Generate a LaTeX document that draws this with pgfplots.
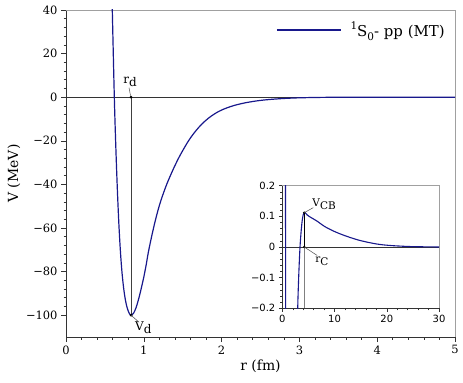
\documentclass[border=0pt]{standalone}
\usepackage{fontspec}
\setmainfont{DejaVu Serif}
\newfontfamily\insetfont{DejaVu Sans}
\usepackage{pgfplots}
\pgfplotsset{compat=1.18}

\definecolor{curve}{RGB}{24,24,140}
\definecolor{frame}{RGB}{160,160,160}
\newcommand\sub[1]{\raisebox{-0.3em}{#1}}

\begin{document}
\begin{tikzpicture}[x=1bp,y=1bp]
\useasboundingbox (0,0) rectangle (463,382);

% main plot
\begin{axis}[
  at={(66bp,45bp)}, anchor=south west,
  scale only axis, width=389bp, height=327bp,
  xmin=0, xmax=5, ymin=-110, ymax=40,
  axis x line*=bottom, axis y line*=left,
  axis line style={black!80, line width=0.8bp},
  clip mode=individual,
  xtick={0,1,2,3,4,5}, xticklabels={0,1,2,3,4,5},
  ytick={-100,-80,-60,-40,-20,0,20,40},
  yticklabels={−100,−80,−60,−40,−20,0,20,40},
  minor x tick num=4, minor y tick num=4,
  tick align=outside, major tick length=5bp, minor tick length=2.5bp,
  tick style={black!80, line width=0.6bp},
  ticklabel style={font=\fontsize{11.5}{12}\selectfont},
  xlabel={r (fm)}, ylabel={V (MeV)},
  label style={font=\fontsize{14}{16}\selectfont},
  xlabel style={at={(axis description cs:0.5,-0.0887)}, anchor=center},
  ylabel style={at={(axis description cs:-0.1337,0.5)}, anchor=center},
  legend style={draw=none, fill=none, inner sep=0pt,
    at={(rel axis cs:0.974,0.939)}, anchor=east,
    nodes={inner sep=0pt}, column sep=9bp,
    font=\fontsize{15}{17}\selectfont},
  legend image code/.code={\draw[#1] (0bp,0bp) -- (64bp,0bp);},
]
\draw[black!80, line width=0.9bp] (axis cs:0,0) -- (axis cs:5,0);
\draw[frame, line width=0.8bp] (rel axis cs:0,1) -- (rel axis cs:1,1) -- (rel axis cs:1,0);

\addplot[curve, line width=1.2bp, smooth] coordinates {
  (0.585,56) (0.595,40) (0.621,0) (0.64,-22.5) (0.66,-42.3) (0.68,-58.5)
  (0.70,-71.1) (0.72,-80.5) (0.74,-87.3) (0.76,-92.3) (0.78,-95.8)
  (0.80,-98.1) (0.82,-99.55) (0.836,-100) (0.85,-99.8) (0.87,-99.0)
  (0.90,-96.6) (0.93,-93.0) (0.952,-90) (0.98,-85.7) (1.0,-82.5)
  (1.03,-77.0) (1.059,-71) (1.10,-64.0) (1.145,-57.0) (1.19,-50.9)
  (1.231,-46.2) (1.28,-41.3) (1.316,-38.1) (1.38,-32.9) (1.445,-28.1)
  (1.5,-24.5) (1.573,-20.1) (1.65,-16.25) (1.745,-12.35) (1.85,-9.1)
  (1.959,-6.6) (2.06,-5.0) (2.17,-3.7) (2.3,-2.6) (2.45,-1.7) (2.6,-1.1)
  (2.8,-0.58) (3.0,-0.28) (3.25,-0.1) (3.5,-0.04) (4.0,-0.005) (5.0,0)
};
\addlegendentry{\raisebox{0.45em}{\fontsize{10.5}{10.5}\selectfont 1}S\raisebox{-0.25em}{\fontsize{10.5}{10.5}\selectfont 0}- pp (MT)}

% r_d and V_d markers
\draw[black!75, line width=0.7bp] (axis cs:0.836,0) -- (axis cs:0.836,-100);
\fill (axis cs:0.836,0) circle[radius=1.5bp];
\fill (axis cs:0.836,-100) circle[radius=1.5bp];
\draw[black!70, line width=0.5bp] (axis cs:0.836,0) ++(-0.5bp,1.5bp) -- ++(-1.5bp,8bp);
\node[anchor=south, inner sep=0pt, font=\fontsize{12}{12}\selectfont]
  at ([xshift=-1bp,yshift=10bp]axis cs:0.836,0) {r\sub{d}};
\draw[black!70, line width=0.5bp] (axis cs:0.836,-100) -- ++(8bp,-7bp);
\node[anchor=north west, inner sep=0pt, font=\fontsize{12}{12}\selectfont]
  at ([xshift=4bp,yshift=-6bp]axis cs:0.836,-100) {V\sub{d}};
\end{axis}

% inset
\begin{axis}[
  at={(282.3bp,73.7bp)}, anchor=south west,
  scale only axis, width=156.7bp, height=122.6bp,
  xmin=0, xmax=30, ymin=-0.2, ymax=0.2,
  axis x line*=bottom, axis y line*=left,
  axis line style={black!80, line width=0.7bp},
  axis background/.style={fill=white},
  clip mode=individual,
  xtick={0,10,20,30}, xticklabels={0,10,20,30},
  ytick={-0.2,-0.1,0,0.1,0.2},
  yticklabels={−0.2,−0.1,0,0.1,0.2},
  minor x tick num=4, minor y tick num=4,
  tick align=outside, major tick length=3.5bp, minor tick length=2bp,
  tick style={black!80, line width=0.5bp},
  ticklabel style={font=\insetfont\fontsize{10}{10}\selectfont},
]
\draw[black!80, line width=0.8bp] (axis cs:0,0) -- (axis cs:30,0);
\draw[frame, line width=0.8bp] (rel axis cs:0,1) -- (rel axis cs:1,1) -- (rel axis cs:1,0);
\draw[frame!80!black, line width=0.8bp] (axis cs:4.2,0) -- (axis cs:4.2,-0.2);

\addplot[curve, line width=1.1bp] coordinates {
  (0.612,1) (0.621,0) (0.630,-1)
};
\addplot[curve, line width=1.1bp, smooth] coordinates {
  (2.7,-0.55) (2.85,-0.3) (2.95,-0.2) (3.05,-0.14) (3.2,-0.07)
  (3.39,0) (3.6,0.05) (3.8,0.085) (4.0,0.105) (4.2,0.112) (4.4,0.111)
  (4.8,0.104) (5.5,0.096) (6.6,0.085) (8,0.068) (9.8,0.052) (11.5,0.04)
  (13,0.031) (14.5,0.023) (16.2,0.016) (18,0.01) (19.3,0.007) (21,0.0045)
  (22.5,0.003) (25,0.0012) (30,0)
};
\draw[black, line width=0.6bp] (axis cs:4.2,0) -- (axis cs:4.2,0.112);
\fill (axis cs:4.2,0.112) circle[radius=1.4bp];
\fill (axis cs:4.2,0) circle[radius=1.4bp];
\draw[black!70, line width=0.5bp] (axis cs:4.2,0.112) -- ++(9bp,5bp);
\node[anchor=south west, inner sep=0pt, font=\fontsize{10.5}{10.5}\selectfont]
  at ([xshift=8bp,yshift=3bp]axis cs:4.2,0.112) {V\sub{CB}};
\draw[black!70, line width=0.5bp] (axis cs:4.2,0) -- ++(13bp,-8.5bp);
\node[anchor=north west, inner sep=0pt, font=\fontsize{10.5}{10.5}\selectfont]
  at ([xshift=11bp,yshift=-10bp]axis cs:4.2,0) {r\sub{C}};
\end{axis}
\end{tikzpicture}
\end{document}
